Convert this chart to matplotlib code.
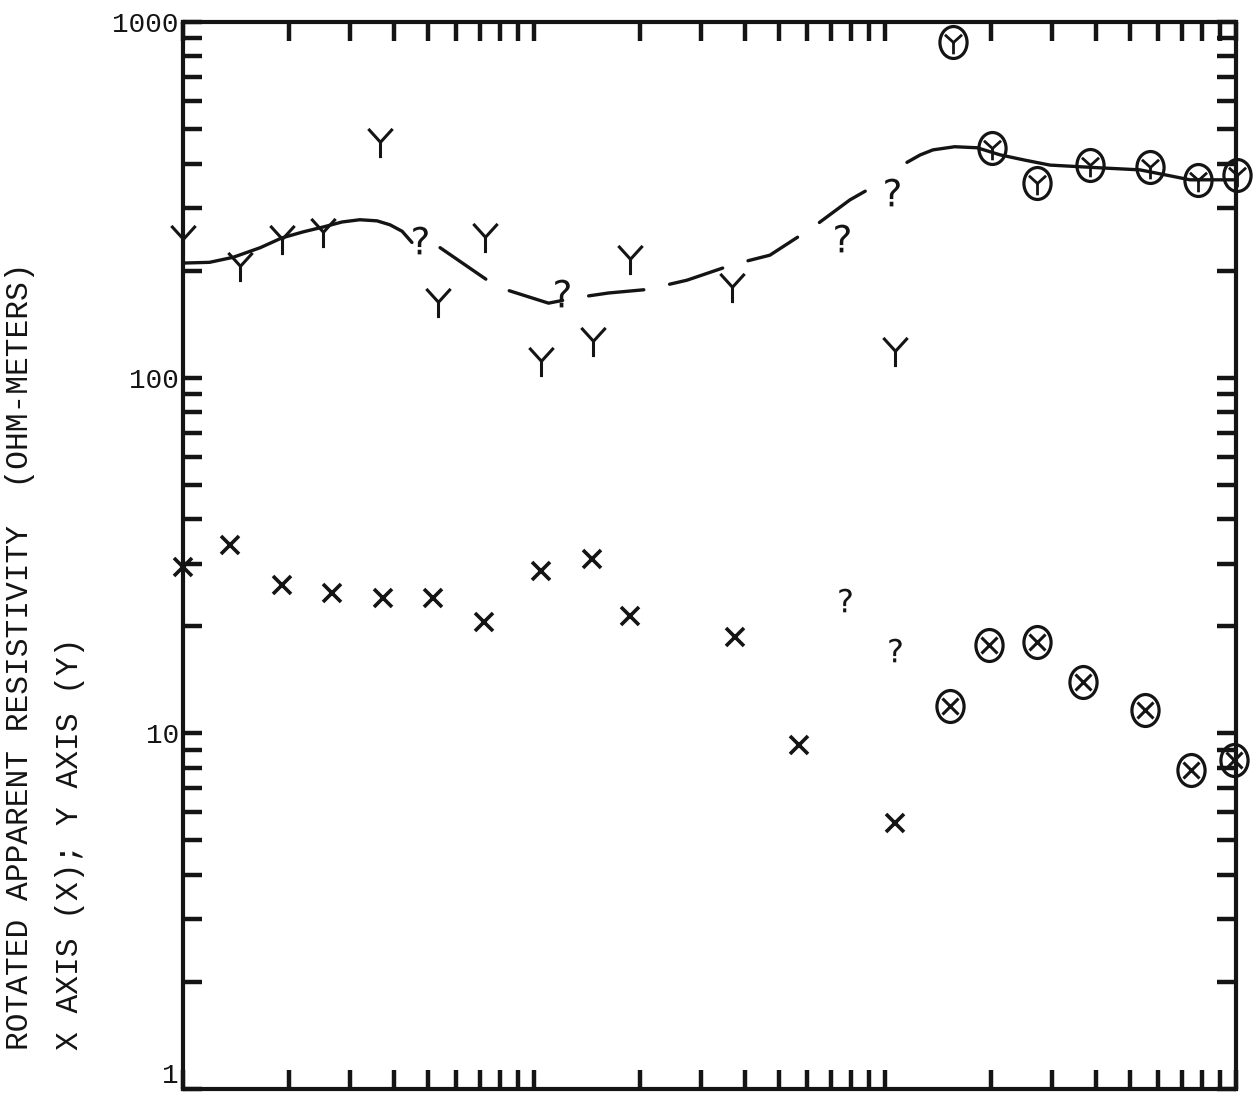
import matplotlib
matplotlib.use("Agg")
import matplotlib.pyplot as plt
from matplotlib.path import Path
from matplotlib.transforms import Affine2D
from matplotlib.ticker import LogLocator, NullFormatter, FixedLocator, FixedFormatter

# ---------------- data ----------------
# Y-axis apparent resistivity, plain "Y" symbols
y_x = [1.0, 1.45, 1.91, 2.50, 3.64, 5.33, 7.25, 10.5, 14.7, 18.8, 36.6, 106.7]
y_val = [244, 205, 244, 255, 457, 162, 247, 111, 126, 214, 179, 118]
# Y-axis uncertain points ("?")
yq_x = [4.73, 12.0, 75.4, 104.7]
yq_val = [244, 173, 247, 332]
# Y-axis circled points
yc_x = [156, 202, 271, 384, 569, 779, 1006]
yc_val = [879, 443, 353, 396, 391, 360, 371]

# X-axis apparent resistivity, plain "x" symbols
x_x = [1.0, 1.36, 1.91, 2.66, 3.71, 5.15, 7.20, 10.5, 14.6, 18.8, 37.4, 56.9, 106.7]
x_val = [29.4, 33.9, 26.1, 24.8, 24.0, 24.0, 20.6, 28.6, 30.9, 21.4, 18.7, 9.3, 5.6]
# X-axis uncertain points ("?")
xq_x = [76.9, 106.7]
xq_val = [23.7, 17.1]
# X-axis circled points
xc_x = [153, 198, 271, 367, 550, 745, 987]
xc_val = [11.9, 17.7, 18.1, 13.9, 11.6, 7.9, 8.4]

# hand-drawn smooth curve through the Y-axis data (three pieces)
c1_x = [1.0, 1.19, 1.39, 1.66, 1.91, 2.20, 2.50, 2.84, 3.19, 3.57, 3.89, 4.21, 4.49]
c1_val = [210, 211, 218, 232, 247, 257, 265, 274, 278, 276, 269, 258, 240]
c2_x = [5.40, 7.85, 11.0, 13.3, 16.3, 21.0, 27.3, 36.9, 47.0, 62.4, 79.4, 89.5]
c2_val = [232, 180, 162, 168, 173, 177, 188, 208, 221, 265, 316, 338]
c3_x = [115.5, 126, 137, 158, 183, 213, 250, 295, 410, 532, 635, 739, 1000]
c3_val = [403, 423, 437, 446, 443, 423, 409, 396, 389, 384, 371, 360, 360]

y_tick_vals = [1, 10, 100, 1000]
y_tick_labels = ["1", "10", "100", "1000"]
ylabel_line1 = "ROTATED APPARENT RESISTIVITY  (OHM-METERS)"
ylabel_line2 = "X AXIS (X); Y AXIS (Y)"

# ---------------- figure ----------------
plt.rcParams["lines.scale_dashes"] = False
INK = "#141414"
MONO = ["Liberation Mono", "DejaVu Sans Mono"]

W, H = 1254, 1093
fig = plt.figure(figsize=(W / 100, H / 100), dpi=100)
fig.patch.set_facecolor("white")
left, right, top, bottom = 183, 1236, 22, 1089
ax = fig.add_axes([left / W, 1 - bottom / H, (right - left) / W, (bottom - top) / H])
ax.set_xscale("log")
ax.set_yscale("log")
ax.set_xlim(1, 1000)
ax.set_ylim(1, 1000)

# marker shapes
Y_PATH = Path([(-0.5, 0.6), (0, 0.05), (0.5, 0.6), (0, 0.05), (0, -0.6)],
              [Path.MOVETO, Path.LINETO, Path.LINETO, Path.MOVETO, Path.LINETO])
PEACE = Path([(-0.42, 0.38), (0, 0), (0.42, 0.38), (0, 0), (0, -0.58)],
             [Path.MOVETO, Path.LINETO, Path.LINETO, Path.MOVETO, Path.LINETO])
ELLIPSE = Affine2D().scale(0.85, 1.0).transform_path(Path.unit_circle())

common = dict(linestyle="none", color=INK, clip_on=False, zorder=4)

# curve
ax.plot(c1_x, c1_val, "-", color=INK, lw=2.4, solid_capstyle="round",
        solid_joinstyle="round", zorder=3)
ax.plot(c2_x, c2_val, color=INK, lw=2.4, dashes=(40, 19), dash_capstyle="round",
        dash_joinstyle="round", zorder=3)
ax.plot(c3_x, c3_val, "-", color=INK, lw=2.4, solid_capstyle="round",
        solid_joinstyle="round", clip_on=False, zorder=3)

# Y series
ax.plot(y_x, y_val, marker=Y_PATH, ms=21, mew=2.2, mfc="none", **common)
ax.plot(yq_x, yq_val, marker="$?$", ms=20, mew=0, **common)
ax.plot(yc_x, yc_val, marker=ELLIPSE, ms=23, mew=2.3, mfc="none", **common)
ax.plot(yc_x, yc_val, marker=PEACE, ms=17, mew=2.0, mfc="none", **common)

# X series
ax.plot(x_x, x_val, marker="x", ms=13, mew=2.6, **common)
ax.plot(xq_x, xq_val, marker="$?$", ms=17, mew=0, **common)
ax.plot(xc_x, xc_val, marker=ELLIPSE, ms=23, mew=2.3, mfc="none", **common)
ax.plot(xc_x, xc_val, marker="x", ms=12, mew=2.2, **common)

# axes styling
for s in ax.spines.values():
    s.set_linewidth(3.0)
    s.set_color(INK)

ax.xaxis.set_major_locator(LogLocator(base=10, numticks=10))
ax.xaxis.set_minor_locator(LogLocator(base=10, subs=range(2, 10), numticks=20))
ax.xaxis.set_major_formatter(NullFormatter())
ax.xaxis.set_minor_formatter(NullFormatter())
ax.yaxis.set_major_locator(FixedLocator(y_tick_vals))
ax.yaxis.set_major_formatter(FixedFormatter(y_tick_labels))
ax.yaxis.set_minor_locator(LogLocator(base=10, subs=range(2, 10), numticks=20))
ax.yaxis.set_minor_formatter(NullFormatter())

ax.tick_params(which="both", direction="in", length=14, width=3.2, color=INK,
               top=True, right=True, bottom=True, left=True)
ax.tick_params(axis="y", which="major", pad=3, labelsize=20, labelcolor=INK)
fig.canvas.draw()
for lab in ax.get_yticklabels():
    lab.set_family(MONO)
    if lab.get_text() == "1":
        lab.set_verticalalignment("bottom")

fig.text(20 / W, 1 - 1050 / H, ylabel_line1, rotation=90, ha="center", va="bottom",
         fontsize=22.5, family=MONO, color=INK)
fig.text(70 / W, 1 - 1050 / H, ylabel_line2, rotation=90, ha="center", va="bottom",
         fontsize=22.5, family=MONO, color=INK)

fig.savefig("out.png", dpi=100, facecolor="white")
